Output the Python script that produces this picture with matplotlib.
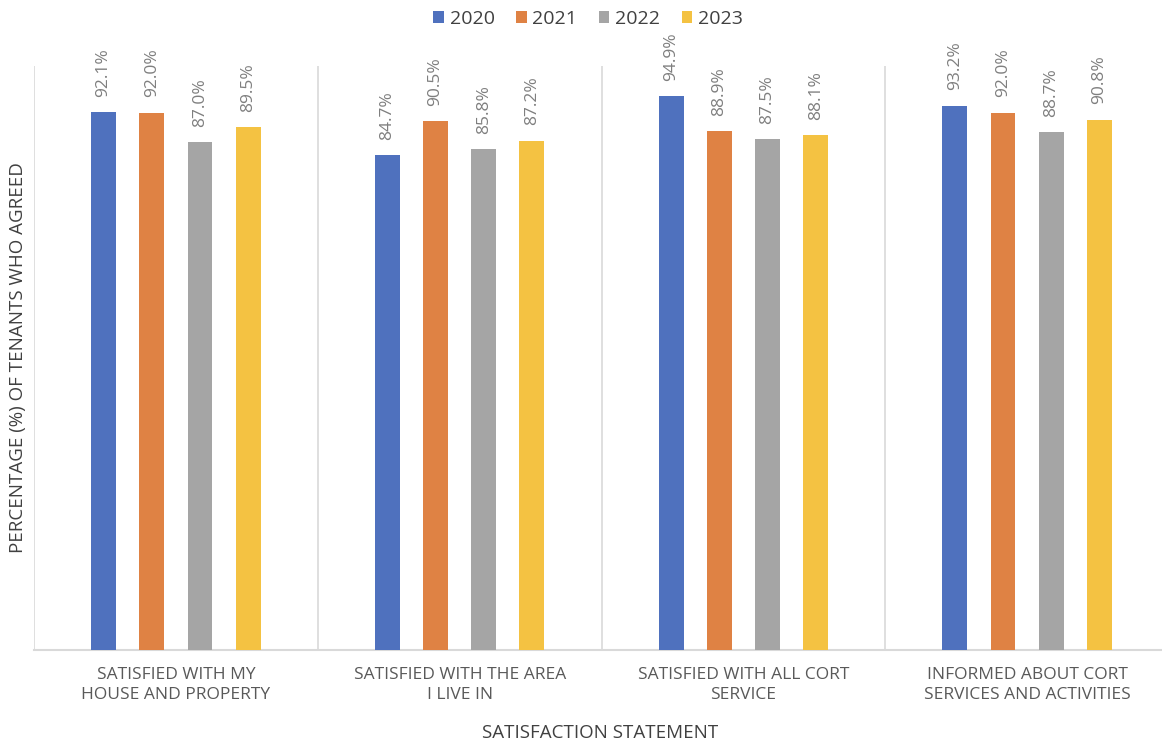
import numpy as np
import matplotlib.pyplot as plt

statements = ["SATISFIED WITH MY\nHOUSE AND PROPERTY",
              "SATISFIED WITH THE AREA\nI LIVE IN",
              "SATISFIED WITH ALL CORT\nSERVICE",
              "INFORMED ABOUT CORT\nSERVICES AND ACTIVITIES"]
years = ["2020", "2021", "2022", "2023"]
pct_2020 = [92.1, 84.7, 94.9, 93.2]
pct_2021 = [92.0, 90.5, 88.9, 92.0]
pct_2022 = [87.0, 85.8, 87.5, 88.7]
pct_2023 = [89.5, 87.2, 88.1, 90.8]
colors = ["#4f71be", "#df8244", "#a5a5a5", "#f4c242"]

plt.rcParams['font.family'] = ['Open Sans', 'DejaVu Sans']

fig = plt.figure(figsize=(11.62, 7.42), dpi=100)
# axes runs a bit past the right edge, like the original export
ax = fig.add_axes([34 / 1162, 92 / 742, 1135 / 1162, 584 / 742])

x = np.arange(len(statements))
spacing = 0.17
width = 0.088
series = [pct_2020, pct_2021, pct_2022, pct_2023]
for i, (yr, vals, c) in enumerate(zip(years, series, colors)):
    pos = x + (i - 1.5) * spacing
    bars = ax.bar(pos, vals, width, color=c, label=yr, zorder=3)
    for b, v in zip(bars, vals):
        ax.annotate(f"{v:.1f}%", (b.get_x() + b.get_width() / 2, v),
                    xytext=(0, 11), textcoords="offset points",
                    rotation=90, ha="center", va="bottom",
                    fontsize=12.5, color="#7f7f7f")

ax.set_xlim(-0.5, len(statements) - 0.5)
ax.set_ylim(0, 100)

# category separators
for b in np.arange(-0.5, len(statements), 1.0):
    ax.axvline(b, color="#d9d9d9", lw=1.2, zorder=1)

for s in ["top", "right", "left"]:
    ax.spines[s].set_visible(False)
ax.spines["bottom"].set_color("#d9d9d9")
ax.spines["bottom"].set_linewidth(1.5)
ax.set_yticks([])
ax.set_xticks(x)
ax.set_xticklabels(statements, fontsize=12.5, color="#595959", linespacing=1.4)
ax.tick_params(axis="x", length=0, pad=12)

fig.text(600 / 1162, 1 - 733 / 742, "SATISFACTION STATEMENT",
         ha="center", va="center", fontsize=13.5, color="#404040")
fig.text(18 / 1162, 1 - 358 / 742, "PERCENTAGE (%) OF TENANTS WHO AGREED",
         ha="center", va="center", rotation=90, fontsize=13.5, color="#404040")

fig.legend(loc="center", bbox_to_anchor=(588 / 1162, 1 - 19 / 742), ncol=4,
           frameon=False, fontsize=14, handlelength=0.55, handleheight=0.55,
           handletextpad=0.3, columnspacing=1.1, labelcolor="#404040")

fig.savefig("out.png", dpi=100)
